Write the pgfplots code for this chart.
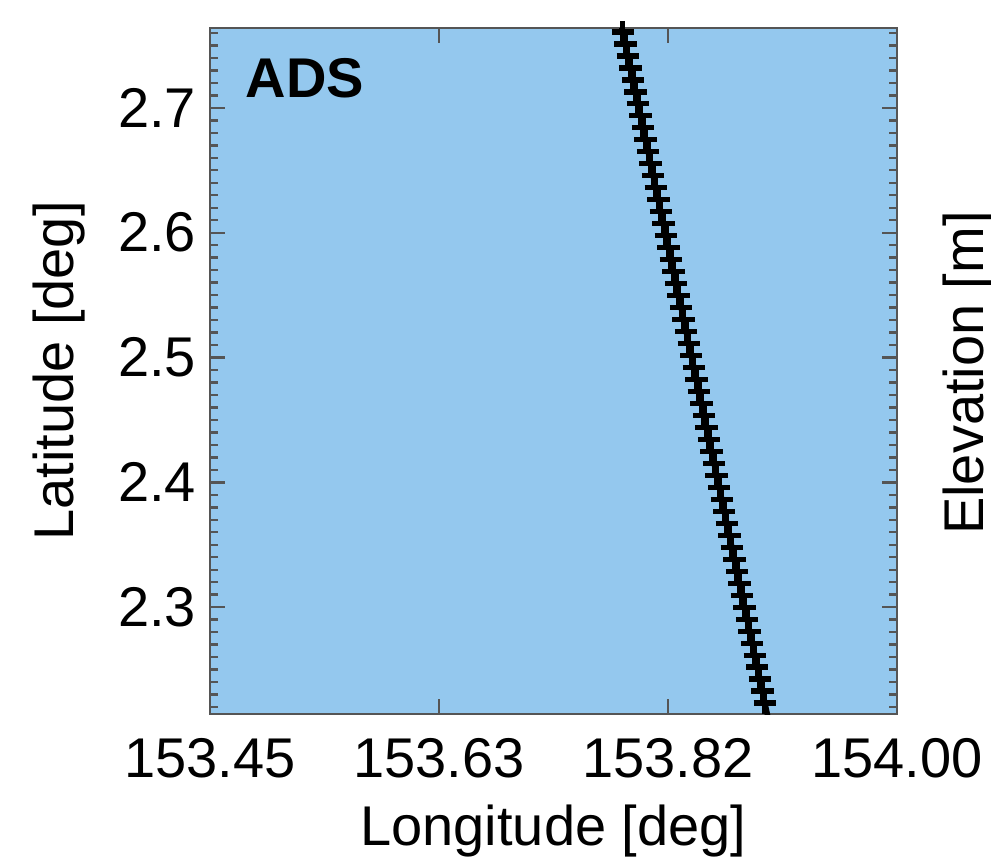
\documentclass[border=0pt]{standalone}
\usepackage{pgfplots}
\pgfplotsset{compat=1.18}
\usepackage{fontspec}
\setmainfont{Liberation Sans}
\definecolor{seablue}{RGB}{148,200,238}
\definecolor{framegray}{RGB}{85,85,85}

% ground track of the altimeter footprints
\pgfplotstableread{
lon lat
153.8983 2.2040
153.8963 2.2136
153.8942 2.2232
153.8922 2.2328
153.8902 2.2424
153.8881 2.2520
153.8861 2.2616
153.8841 2.2712
153.8820 2.2808
153.8800 2.2904
153.8780 2.3000
153.8759 2.3096
153.8739 2.3192
153.8719 2.3288
153.8698 2.3384
153.8678 2.3480
153.8658 2.3576
153.8637 2.3672
153.8617 2.3768
153.8597 2.3864
153.8577 2.3960
153.8556 2.4056
153.8536 2.4152
153.8516 2.4248
153.8495 2.4344
153.8475 2.4440
153.8455 2.4536
153.8434 2.4632
153.8414 2.4728
153.8394 2.4824
153.8373 2.4920
153.8353 2.5016
153.8333 2.5112
153.8312 2.5208
153.8292 2.5304
153.8272 2.5400
153.8251 2.5496
153.8231 2.5592
153.8211 2.5688
153.8190 2.5784
153.8170 2.5880
153.8150 2.5976
153.8129 2.6072
153.8109 2.6168
153.8089 2.6264
153.8069 2.6360
153.8048 2.6456
153.8028 2.6552
153.8008 2.6648
153.7987 2.6744
153.7967 2.6840
153.7947 2.6936
153.7926 2.7032
153.7906 2.7128
153.7886 2.7224
153.7865 2.7320
153.7845 2.7416
153.7825 2.7512
153.7804 2.7608
153.7784 2.7704
}\track

\begin{document}
\begin{tikzpicture}
\path[use as bounding box] (-52.5pt,-35.5pt) rectangle (195.25pt,178.5pt);
\begin{axis}[
  at={(0,0)}, anchor=south west,
  scale only axis,
  width=171.75pt, height=171.5pt,
  xmin=153.45, xmax=154.0,
  ymin=2.2144, ymax=2.764,
  axis background/.style={fill=seablue},
  axis line style={framegray, line width=0.6pt},
  xtick={153.45,153.633333,153.816667,154.0},
  xticklabels={153.45,153.63,153.82,154.00},
  ytick={2.3,2.4,2.5,2.6,2.7},
  yticklabels={2.3,2.4,2.5,2.6,2.7},
  minor ytick={2.22,2.23,...,2.76},
  tick style={framegray, line width=0.6pt},
  major tick length=3.75pt,
  minor tick length=2pt,
  tick align=inside,
  xtick pos=both, ytick pos=both,
  ticklabel style={font=\fontsize{14}{16}\selectfont},
  xticklabel style={yshift=-2.5pt},
  /pgf/number format/assume math mode=true,
  xlabel={Longitude [deg]},
  ylabel={Latitude [deg]},
  ylabel shift=1.25pt,
  label style={font=\fontsize{14}{16}\selectfont},
  clip=true,
]
\addplot[black, line width=1.4pt, mark=+, mark size=2.8pt,
  mark options={line width=1.3pt}] table[x=lon, y=lat] {\track};
\node[anchor=base west, inner sep=0pt, font=\fontsize{14}{16}\selectfont\bfseries]
  at (rel axis cs:0.051,0.899) {ADS};
\end{axis}
\node[rotate=90, font=\fontsize{14}{16}\selectfont] at (189.75pt,85.25pt) {Elevation [m]};
\end{tikzpicture}
\end{document}
